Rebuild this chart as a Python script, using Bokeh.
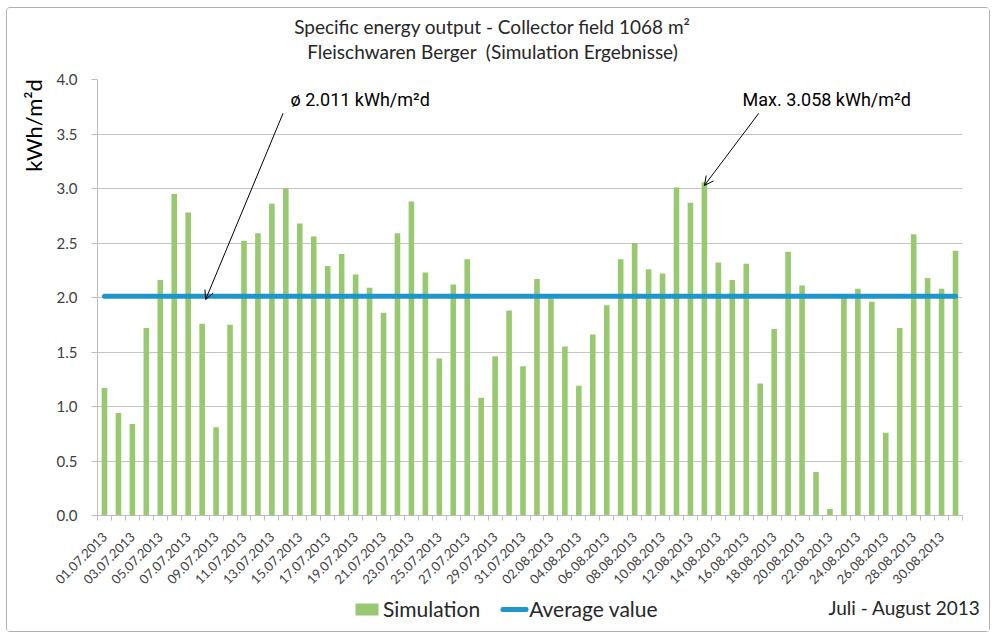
import math
from bokeh.plotting import figure
from bokeh.layouts import column, row
from bokeh.models import (Range1d, FixedTicker, Label, Arrow, OpenHead, BoxAnnotation,
                          Legend, LegendItem, PrintfTickFormatter, ColumnDataSource)
from bokeh.embed import file_html
from bokeh.resources import INLINE

# ---------------- data ----------------
days = list(range(1, 63))  # 01.07.2013 ... 31.08.2013
simulation = [1.17, 0.94, 0.84, 1.72, 2.16, 2.95, 2.78, 1.76, 0.81, 1.75,
              2.52, 2.59, 2.86, 3.00, 2.68, 2.56, 2.29, 2.40, 2.21, 2.09,
              1.86, 2.59, 2.88, 2.23, 1.44, 2.12, 2.35, 1.08, 1.46, 1.88,
              1.37, 2.17, 1.99, 1.55, 1.19, 1.66, 1.93, 2.35, 2.50, 2.26,
              2.22, 3.01, 2.87, 3.058, 2.32, 2.16, 2.31, 1.21, 1.71, 2.42,
              2.11, 0.40, 0.06, 2.00, 2.08, 1.96, 0.76, 1.72, 2.58, 2.18,
              2.08, 2.43]
average_value = 2.011
max_value = 3.058
tick_labels = ["01.07.2013", "03.07.2013", "05.07.2013", "07.07.2013", "09.07.2013",
               "11.07.2013", "13.07.2013", "15.07.2013", "17.07.2013", "19.07.2013",
               "21.07.2013", "23.07.2013", "25.07.2013", "27.07.2013", "29.07.2013",
               "31.07.2013", "02.08.2013", "04.08.2013", "06.08.2013", "08.08.2013",
               "10.08.2013", "12.08.2013", "14.08.2013", "16.08.2013", "18.08.2013",
               "20.08.2013", "22.08.2013", "24.08.2013", "26.08.2013", "28.08.2013",
               "30.08.2013"]
tick_positions = days[::2]
y_ticks = [0.0, 0.5, 1.0, 1.5, 2.0, 2.5, 3.0, 3.5, 4.0]

FONT = "Lato"
TXT = "#262626"
GREEN = "#98C86F"
BLUE = "#1F96CB"
W = 982


def blank(width, height):
    f = figure(width=width, height=height, output_backend="svg", toolbar_location=None,
               x_range=Range1d(0, width), y_range=Range1d(0, height),
               x_axis_location=None, y_axis_location=None,
               min_border=0, min_border_left=0, min_border_right=0,
               min_border_top=0, min_border_bottom=0)
    f.outline_line_color = None
    f.grid.visible = False
    return f


# ---------------- header (title) ----------------
header = blank(W, 61)
header.add_layout(Label(x=485, y=43, text="Specific energy output - Collector field 1068 m²",
                        text_font=FONT, text_font_size="19px", text_color=TXT,
                        text_align="center", text_baseline="middle"))
header.add_layout(Label(x=485, y=18, text="Fleischwaren Berger\u00a0 (Simulation Ergebnisse)",
                        text_font=FONT, text_font_size="19px", text_color=TXT,
                        text_align="center", text_baseline="middle"))

# ---------------- y axis title ----------------
ylab = blank(45, 522)
ylab.add_layout(Label(x=26, y=467, text="kWh/m²d", angle=math.pi / 2,
                      text_font=FONT, text_font_size="22px", text_color="#000000",
                      text_align="center", text_baseline="middle"))

# ---------------- main chart ----------------
p = figure(width=W - 45, height=522, output_backend="svg", toolbar_location=None,
           x_range=Range1d(0.5, 62.5), y_range=Range1d(0, 4),
           min_border_left=45, min_border_right=27, min_border_top=10, min_border_bottom=72)
p.outline_line_color = None
p.xgrid.grid_line_color = None
p.ygrid.grid_line_color = "#c4c4c4"
p.ygrid.ticker = FixedTicker(ticks=y_ticks)

src = ColumnDataSource(dict(x=days, y=simulation, avg=[average_value] * len(days)))
bars = p.vbar(x="x", top="y", width=0.4, source=src, fill_color=GREEN, line_color=None)
avg_line = p.line(x="x", y="avg", source=src, line_color=BLUE, line_width=5, line_cap="round")

ya = p.yaxis[0]
ya.ticker = FixedTicker(ticks=y_ticks)
ya.formatter = PrintfTickFormatter(format="%.1f")
ya.major_label_text_font = FONT
ya.major_label_text_font_size = "15px"
ya.major_label_text_color = "#404040"
ya.axis_line_color = "#bdbdbd"
ya.major_tick_line_color = "#bdbdbd"
ya.major_tick_out = 6
ya.major_tick_in = 0
ya.minor_tick_line_color = None
ya.major_label_standoff = 14

xa = p.xaxis[0]
xa.ticker = FixedTicker(ticks=tick_positions, minor_ticks=[d + 0.5 for d in [0] + days])
xa.major_label_overrides = {pos: lab for pos, lab in zip(tick_positions, tick_labels)}
xa.major_label_orientation = math.pi / 4
xa.major_label_text_font = FONT
xa.major_label_text_font_size = "13px"
xa.major_label_text_color = "#404040"
xa.major_label_standoff = 14
xa.axis_line_color = "#bdbdbd"
xa.major_tick_out = 0
xa.major_tick_in = 0
xa.minor_tick_line_color = "#bdbdbd"
xa.minor_tick_out = 5
xa.minor_tick_in = 0

p.add_layout(Label(x=193, y=416, x_units="screen", y_units="screen",
                   text="ø 2.011 kWh/m²d", text_font="Roboto", text_font_size="18px",
                   text_color="#000000", text_align="left", text_baseline="middle"))
p.add_layout(Label(x=645, y=416, x_units="screen", y_units="screen",
                   text="Max. 3.058 kWh/m²d", text_font="Roboto", text_font_size="18px",
                   text_color="#000000", text_align="left", text_baseline="middle"))
p.add_layout(Arrow(end=OpenHead(size=9, line_width=1, line_color="#000000"),
                   x_start=13.8, y_start=3.69, x_end=8.25, y_end=average_value - 0.03,
                   line_width=1, line_color="#000000"))
p.add_layout(Arrow(end=OpenHead(size=9, line_width=1, line_color="#000000"),
                   x_start=47.9, y_start=3.69, x_end=44.0, y_end=max_value - 0.03,
                   line_width=1, line_color="#000000"))

# ---------------- footer (legend row) ----------------
footer = blank(W, 40)
leg_bar = footer.vbar(x=[], top=[], width=0.4, fill_color=GREEN, line_color=None)
leg_line = footer.line(x=[], y=[], line_color=BLUE, line_width=5, line_cap="round")
# legend swatches
footer.add_layout(BoxAnnotation(left=348, right=371, bottom=16, top=28,
                                fill_color=GREEN, fill_alpha=1, line_color=None))
footer.add_layout(BoxAnnotation(left=493, right=521, bottom=19.5, top=24.5,
                                fill_color=BLUE, fill_alpha=1, line_color=None,
                                border_radius=2))
legend = Legend(items=[LegendItem(label="Simulation", renderers=[leg_bar]),
                       LegendItem(label="Average value", renderers=[leg_line])],
                location=(348, 10), orientation="horizontal",
                label_text_font=FONT, label_text_font_size="21px", label_text_color=TXT,
                glyph_width=28, glyph_height=15, label_standoff=0, spacing=21,
                padding=0, margin=0, border_line_color=None, background_fill_alpha=0)
footer.add_layout(legend)
footer.add_layout(Label(x=821, y=24, text="Juli - August 2013", text_font=FONT,
                        text_font_size="19px", text_color=TXT,
                        text_align="left", text_baseline="middle"))

layout = column(header, row(ylab, p), footer)
layout.styles = {"margin-left": "6px", "margin-top": "7px",
                 "border": "1px solid #b0b0b0", "border-radius": "4px"}

open("out.html", "w").write(file_html(layout, INLINE))
